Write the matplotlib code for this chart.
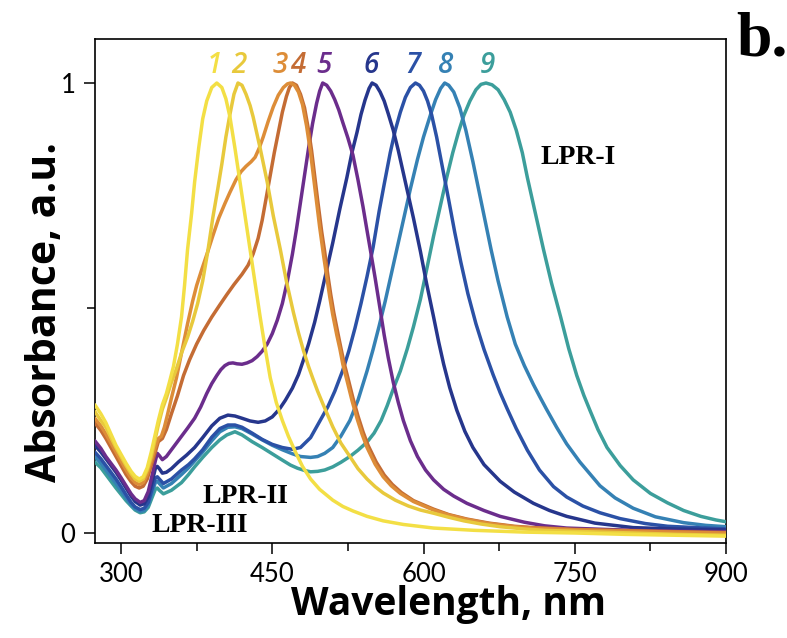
import matplotlib
matplotlib.use("Agg")
import matplotlib.pyplot as plt
from matplotlib.ticker import FixedLocator

# ---- data (wavelength nm, normalized absorbance) ----
wl1 = [274, 280, 285, 290, 295, 300, 305, 310, 314, 318, 322, 326, 330, 334, 337, 341, 345, 348, 352,
       356, 360, 363, 366, 370, 373, 377, 381, 385, 390, 395, 400, 404, 408, 413, 418, 423, 428, 433,
       438, 443, 448, 454, 460, 466, 473, 480, 488, 497, 510, 520, 530, 544, 560, 580, 610, 650, 700,
       750, 800, 850, 900]
ab1 = [0.285, 0.265, 0.245, 0.22, 0.195, 0.175, 0.155, 0.137, 0.126, 0.12, 0.125, 0.145, 0.18, 0.22,
       0.25, 0.285, 0.31, 0.335, 0.37, 0.42, 0.48, 0.55, 0.63, 0.71, 0.78, 0.855, 0.92, 0.96, 0.99, 1.0,
       0.99, 0.965, 0.925, 0.855, 0.78, 0.705, 0.63, 0.555, 0.48, 0.41, 0.345, 0.29, 0.25, 0.215, 0.18,
       0.148, 0.12, 0.097, 0.073, 0.059, 0.049, 0.037, 0.027, 0.019, 0.011, 0.006, 0.002, 0.0, -0.003,
       -0.005, -0.007]

wl2 = [274, 280, 285, 290, 295, 300, 305, 310, 314, 318, 322, 326, 330, 334, 337, 341, 345, 350, 355,
       360, 366, 371, 376, 381, 386, 391, 396, 400, 404, 408, 412, 416, 420, 424, 428, 431, 438, 445,
       451, 458, 464, 471, 476, 481, 486, 490, 495, 500, 505, 510, 518, 527, 535, 544, 552, 560, 572,
       585, 597, 610, 625, 640, 657, 676, 700, 720, 760, 808, 850, 900]
ab2 = [0.27, 0.25, 0.235, 0.212, 0.19, 0.17, 0.15, 0.132, 0.12, 0.115, 0.12, 0.14, 0.17, 0.21, 0.24,
       0.275, 0.3, 0.335, 0.365, 0.4, 0.435, 0.47, 0.51, 0.56, 0.625, 0.7, 0.765, 0.82, 0.88, 0.93,
       0.975, 1.0, 0.995, 0.975, 0.95, 0.925, 0.855, 0.78, 0.705, 0.63, 0.56, 0.49, 0.445, 0.405, 0.37,
       0.345, 0.315, 0.288, 0.262, 0.236, 0.2, 0.17, 0.143, 0.12, 0.103, 0.089, 0.073, 0.06, 0.051,
       0.044, 0.035, 0.027, 0.02, 0.014, 0.009, 0.006, 0.003, 0.0, -0.003, -0.005]

wl3 = [274, 280, 285, 290, 295, 300, 305, 310, 314, 318, 322, 326, 330, 334, 337, 340, 343, 346, 350,
       355, 360, 366, 371, 375, 380, 386, 391, 397, 403, 408, 414, 419, 424, 429, 433, 437, 441, 446,
       451, 456, 461, 465, 468, 472, 476, 480, 484, 488, 491, 494, 497, 501, 504, 507, 510, 514, 517,
       520, 524, 529, 534, 539, 544, 552, 560, 568, 577, 590, 610, 625, 643, 665, 690, 709, 750, 808,
       850, 900]
ab3 = [0.255, 0.238, 0.22, 0.2, 0.18, 0.16, 0.14, 0.122, 0.112, 0.108, 0.112, 0.13, 0.16, 0.19, 0.21,
       0.215, 0.235, 0.262, 0.3, 0.345, 0.4, 0.465, 0.515, 0.55, 0.585, 0.625, 0.66, 0.7, 0.732, 0.757,
       0.785, 0.803, 0.815, 0.825, 0.835, 0.855, 0.88, 0.915, 0.947, 0.973, 0.99, 0.998, 1.0, 0.995,
       0.98, 0.952, 0.905, 0.845, 0.79, 0.735, 0.68, 0.615, 0.57, 0.525, 0.485, 0.44, 0.41, 0.375,
       0.34, 0.295, 0.255, 0.22, 0.19, 0.153, 0.125, 0.105, 0.088, 0.07, 0.051, 0.04, 0.03, 0.021,
       0.014, 0.011, 0.007, 0.004, 0.002, 0.0]

wl4 = [274, 280, 285, 290, 295, 300, 305, 310, 314, 318, 322, 326, 330, 334, 337, 341, 345, 350, 356,
       362, 368, 375, 382, 390, 398, 405, 412, 420, 426, 431, 436, 440, 444, 448, 452, 456, 460, 464,
       467, 470, 474, 478, 482, 486, 489, 492, 495, 499, 502, 505, 508, 511, 515, 518, 521, 525, 530,
       535, 540, 545, 553, 561, 569, 578, 590, 610, 625, 643, 665, 690, 709, 750, 808, 850, 900]
ab4 = [0.245, 0.228, 0.21, 0.19, 0.17, 0.15, 0.13, 0.114, 0.104, 0.1, 0.104, 0.12, 0.15, 0.18, 0.203,
       0.21, 0.23, 0.265, 0.305, 0.35, 0.385, 0.42, 0.45, 0.48, 0.507, 0.53, 0.552, 0.575, 0.595, 0.62,
       0.655, 0.695, 0.745, 0.795, 0.845, 0.89, 0.935, 0.97, 0.99, 1.0, 0.995, 0.975, 0.945, 0.895,
       0.85, 0.795, 0.74, 0.67, 0.625, 0.575, 0.53, 0.49, 0.445, 0.412, 0.38, 0.345, 0.3, 0.26, 0.225,
       0.195, 0.158, 0.129, 0.108, 0.09, 0.072, 0.053, 0.041, 0.031, 0.022, 0.015, 0.012, 0.008, 0.005,
       0.003, 0.001]

wl5 = [274, 280, 285, 290, 295, 300, 305, 310, 314, 319, 323, 327, 331, 334, 336, 338, 341, 345, 350,
       355, 360, 366, 373, 379, 385, 390, 395, 399, 403, 407, 411, 415, 420, 425, 430, 435, 440, 445,
       450, 455, 460, 465, 470, 474, 478, 482, 486, 490, 494, 497, 500, 504, 508, 512, 516, 520, 525,
       530, 535, 540, 544, 548, 552, 557, 561, 565, 570, 575, 580, 587, 594, 602, 610, 620, 630, 643,
       660, 676, 700, 720, 742, 780, 808, 850, 900]
ab5 = [0.205, 0.188, 0.17, 0.155, 0.14, 0.123, 0.105, 0.087, 0.076, 0.068, 0.072, 0.092, 0.13, 0.16,
       0.177, 0.172, 0.163, 0.17, 0.185, 0.2, 0.215, 0.233, 0.255, 0.28, 0.31, 0.332, 0.35, 0.363, 0.372,
       0.377, 0.378, 0.376, 0.375, 0.378, 0.383, 0.392, 0.404, 0.42, 0.443, 0.473, 0.51, 0.56, 0.62,
       0.675, 0.735, 0.795, 0.855, 0.91, 0.955, 0.982, 1.0, 0.995, 0.982, 0.963, 0.94, 0.912, 0.878,
       0.84, 0.785, 0.725, 0.672, 0.62, 0.567, 0.497, 0.44, 0.39, 0.335, 0.29, 0.25, 0.205, 0.17, 0.14,
       0.118, 0.097, 0.082, 0.066, 0.05, 0.037, 0.024, 0.016, 0.011, 0.008, 0.006, 0.004, 0.003]

wl6 = [274, 280, 285, 290, 295, 300, 305, 310, 314, 319, 323, 327, 331, 334, 336, 338, 341, 345, 350,
       357, 365, 373, 381, 390, 398, 406, 413, 420, 428, 436, 443, 450, 457, 463, 470, 476, 481, 486,
       492, 497, 503, 510, 517, 524, 529, 534, 538, 542, 546, 549, 553, 557, 561, 565, 570, 575, 580,
       584, 590, 597, 603, 610, 615, 620, 626, 633, 641, 649, 660, 676, 690, 709, 725, 742, 770, 808,
       850, 900]
ab6 = [0.195, 0.18, 0.165, 0.15, 0.135, 0.118, 0.1, 0.082, 0.07, 0.062, 0.065, 0.08, 0.115, 0.143,
       0.148, 0.143, 0.133, 0.135, 0.143, 0.158, 0.173, 0.19, 0.212, 0.238, 0.255, 0.262, 0.26, 0.255,
       0.249, 0.246, 0.249, 0.258, 0.275, 0.295, 0.322, 0.352, 0.385, 0.42, 0.468, 0.515, 0.575, 0.645,
       0.72, 0.79, 0.845, 0.89, 0.93, 0.962, 0.988, 1.0, 0.995, 0.98, 0.96, 0.932, 0.895, 0.85, 0.8,
       0.76, 0.7, 0.625, 0.555, 0.48, 0.425, 0.375, 0.323, 0.273, 0.226, 0.19, 0.152, 0.115, 0.091,
       0.066, 0.05, 0.037, 0.022, 0.012, 0.009, 0.007]

wl7 = [274, 280, 285, 290, 295, 300, 305, 310, 314, 319, 323, 327, 331, 334, 336, 338, 342, 350, 360,
       367, 373, 381, 390, 398, 406, 413, 420, 430, 440, 450, 460, 470, 478, 488, 497, 505, 512, 520,
       526, 532, 538, 544, 550, 556, 561, 567, 572, 577, 582, 587, 592, 596, 600, 604, 608, 613, 619,
       625, 631, 637, 644, 652, 660, 669, 676, 683, 692, 703, 715, 729, 742, 758, 775, 795, 820, 842,
       870, 900]
ab7 = [0.18, 0.165, 0.15, 0.135, 0.12, 0.103, 0.085, 0.068, 0.058, 0.052, 0.055, 0.068, 0.1, 0.122,
       0.125, 0.12, 0.11, 0.12, 0.14, 0.152, 0.165, 0.185, 0.213, 0.232, 0.24, 0.24, 0.235, 0.222,
       0.208, 0.197, 0.19, 0.186, 0.19, 0.212, 0.248, 0.28, 0.315, 0.362, 0.405, 0.455, 0.51, 0.57,
       0.635, 0.715, 0.775, 0.845, 0.895, 0.935, 0.968, 0.99, 1.0, 0.995, 0.982, 0.96, 0.93, 0.88, 0.81,
       0.74, 0.668, 0.602, 0.532, 0.465, 0.408, 0.352, 0.312, 0.276, 0.232, 0.184, 0.14, 0.103, 0.08,
       0.06, 0.045, 0.032, 0.021, 0.015, 0.012, 0.009]

wl8 = [274, 280, 285, 290, 295, 300, 305, 310, 314, 319, 323, 327, 331, 334, 336, 338, 342, 350, 360,
       367, 373, 381, 390, 398, 406, 413, 420, 430, 440, 450, 460, 470, 478, 488, 495, 502, 510, 518,
       527, 535, 544, 550, 556, 562, 567, 573, 580, 587, 594, 600, 607, 612, 617, 621, 625, 630, 636,
       642, 649, 655, 661, 667, 674, 683, 691, 700, 709, 716, 722, 732, 742, 755, 775, 790, 808, 830,
       858, 880, 900]
ab8 = [0.17, 0.155, 0.14, 0.125, 0.11, 0.094, 0.078, 0.063, 0.054, 0.048, 0.05, 0.062, 0.09, 0.112,
       0.115, 0.11, 0.1, 0.11, 0.13, 0.145, 0.16, 0.18, 0.205, 0.225, 0.235, 0.236, 0.232, 0.22, 0.207,
       0.195, 0.185, 0.176, 0.17, 0.168, 0.17, 0.177, 0.19, 0.215, 0.25, 0.295, 0.36, 0.408, 0.46,
       0.515, 0.565, 0.625, 0.695, 0.765, 0.83, 0.88, 0.93, 0.963, 0.988, 1.0, 0.995, 0.98, 0.945, 0.895,
       0.825, 0.76, 0.695, 0.63, 0.56, 0.48, 0.42, 0.372, 0.33, 0.3, 0.275, 0.235, 0.198, 0.158, 0.105,
       0.078, 0.055, 0.036, 0.023, 0.017, 0.014]

wl9 = [274, 280, 285, 290, 295, 300, 305, 310, 314, 319, 323, 327, 331, 334, 336, 338, 342, 350, 360,
       367, 373, 381, 390, 398, 405, 413, 420, 430, 440, 450, 460, 468, 475, 482, 488, 495, 502, 510,
       518, 527, 535, 544, 551, 558, 564, 570, 577, 584, 590, 597, 604, 610, 617, 623, 629, 635, 640,
       646, 652, 657, 662, 668, 674, 680, 686, 692, 698, 703, 711, 719, 727, 736, 744, 752, 759, 765,
       773, 782, 795, 808, 825, 842, 858, 875, 890, 900]
ab9 = [0.158, 0.145, 0.13, 0.115, 0.1, 0.086, 0.072, 0.06, 0.051, 0.045, 0.047, 0.057, 0.08, 0.097,
       0.1, 0.095, 0.087, 0.095, 0.112, 0.13, 0.147, 0.168, 0.19, 0.207, 0.218, 0.225, 0.218, 0.203,
       0.19, 0.176, 0.162, 0.151, 0.144, 0.139, 0.136, 0.137, 0.14, 0.147, 0.157, 0.17, 0.184, 0.202,
       0.222, 0.25, 0.283, 0.32, 0.36, 0.41, 0.458, 0.52, 0.595, 0.66, 0.73, 0.79, 0.845, 0.893, 0.928,
       0.96, 0.985, 0.997, 1.0, 0.996, 0.985, 0.963, 0.935, 0.895, 0.845, 0.79, 0.71, 0.63, 0.555,
       0.48, 0.41, 0.35, 0.306, 0.273, 0.23, 0.19, 0.15, 0.118, 0.088, 0.067, 0.05, 0.037, 0.029,
       0.025]

series_labels = ["1", "2", "3", "4", "5", "6", "7", "8", "9"]
label_x = [393, 417, 458, 475, 501, 548, 590, 622, 663]
colors = ["#f3df45", "#e8c93c", "#dd8d38", "#c46c34", "#6b2d8c", "#26368c", "#2b51a6", "#3581b4",
          "#3c9e9b"]

annot_text = ["LPR-I", "LPR-II", "LPR-III"]
annot_x = [753, 423, 378]
annot_y = [0.835, 0.082, 0.016]

xticks = [300, 450, 600, 750, 900]
xminor = [375, 525, 675, 825]
yticks = [0, 1]
yminor = [0.5]

# ---- figure ----
W, H = 787, 638
fig = plt.figure(figsize=(W / 100, H / 100), dpi=100)
ax = fig.add_axes([95 / W, 1 - 543 / H, (726 - 95) / W, (543 - 39) / H])

wls = [wl1, wl2, wl3, wl4, wl5, wl6, wl7, wl8, wl9]
abs_ = [ab1, ab2, ab3, ab4, ab5, ab6, ab7, ab8, ab9]
for i in reversed(range(9)):
    ax.plot(wls[i], abs_[i], color=colors[i], lw=2.5, solid_capstyle="round",
            solid_joinstyle="round", zorder=3 + (9 - i) * 0.1)

ax.set_xlim(274.2, 900)
ax.set_ylim(-0.0222, 1.0978)

tick_font = ["Lato", "DejaVu Sans"]
ax.xaxis.set_major_locator(FixedLocator(xticks))
ax.xaxis.set_minor_locator(FixedLocator(xminor))
ax.yaxis.set_major_locator(FixedLocator(yticks))
ax.yaxis.set_minor_locator(FixedLocator(yminor))
ax.tick_params(which="major", direction="out", length=8, width=1.1, pad=6)
ax.tick_params(which="minor", direction="out", length=6, width=1.1)
for lab in ax.get_xticklabels() + ax.get_yticklabels():
    lab.set_family(tick_font)
    lab.set_fontsize(18.5)
for sp in ax.spines.values():
    sp.set_linewidth(1.2)

lab_font = ["Open Sans", "DejaVu Sans"]
ax.set_xlabel("Wavelength, nm", family=lab_font, fontsize=28, fontweight="bold")
ax.set_ylabel("Absorbance, a.u.", family=lab_font, fontsize=29.5, fontweight="bold")
ax.xaxis.set_label_coords(0.56, -0.123)
ax.xaxis.label.set_verticalalignment("center")
ax.yaxis.set_label_coords(-0.079, 0.458)
ax.yaxis.label.set_verticalalignment("center")

for i in range(9):
    ax.text(label_x[i], 1.04, series_labels[i], color=colors[i], family=lab_font,
            style="italic", fontweight="semibold", fontsize=20, ha="center", va="center")

for t, x, y in zip(annot_text, annot_x, annot_y):
    ax.text(x, y, t, family=["Liberation Serif", "DejaVu Serif"], fontweight="bold",
            fontsize=20, ha="center", va="center", zorder=10)

fig.text(736 / W, 1 - 55 / H, "b.", family=["Liberation Serif", "DejaVu Serif"],
         fontweight="bold", fontsize=46, ha="left", va="baseline")

fig.savefig("out.png", dpi=100)
